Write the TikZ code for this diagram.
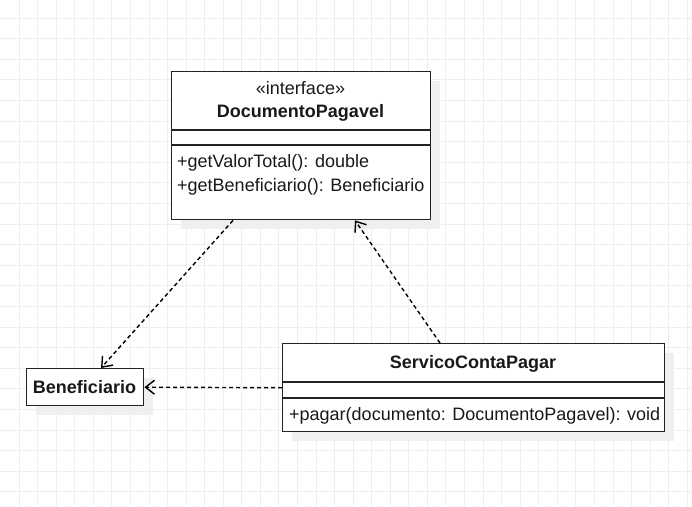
\documentclass[tikz,border=0pt]{standalone}
\usepackage{fontspec}
\setmainfont{Liberation Sans}
\usetikzlibrary{arrows.meta}
\definecolor{gridc}{HTML}{EEEEEE}
\definecolor{linec}{HTML}{222222}
\definecolor{shadowc}{HTML}{EFEFEF}
\begin{document}
\begin{tikzpicture}[x=1pt,y=-1pt,
  umlbox/.style={draw=linec, line width=1.4pt, fill=white, inner sep=0pt, anchor=north west},
  shadowbox/.style={fill=shadowc},
  divider/.style={draw=linec, line width=1.4pt},
  txt/.style={inner sep=0pt, text=black!90, font=\fontsize{18}{20}\selectfont},
  btxt/.style={txt, font=\fontsize{18}{20}\selectfont\bfseries},
  dep/.style={draw=black, line width=1.4pt, dash pattern=on 4pt off 3pt,
    -{Straight Barb[length=9pt,width=14pt,line width=1.4pt]}}
]
\useasboundingbox (0,0) rectangle (692,506);
\fill[white] (0,0) rectangle (692,506);
% grid
\foreach \i in {0,...,36} \draw[gridc, line width=0.8pt] ({19+18.56*\i},0) -- ++(0,506);
\foreach \j in {0,...,23} \draw[gridc, line width=0.8pt] (0,{18+20.6*\j}) -- ++(692,0);
% shadows
\fill[shadowbox] (181,81) rectangle (440,229);
\fill[shadowbox] (36,378) rectangle (153,415);
\fill[shadowbox] (292,353) rectangle (674,441);
% boxes
\node[umlbox, minimum width=259pt, minimum height=148pt] (dp) at (171,71) {};
\node[umlbox, minimum width=117pt, minimum height=37pt] (ben) at (26,368) {};
\node[umlbox, minimum width=382pt, minimum height=88pt] (scp) at (282,343) {};
% dividers
\draw[divider] (171,130) -- (430,130);
\draw[divider] (171,145) -- (430,145);
\draw[divider] (282,382) -- (664,382);
\draw[divider] (282,398) -- (664,398);
% texts
\node[txt, anchor=base] (dpst) at (300.5,94) {«interface»};
\node[btxt, anchor=base] (dpname) at (300.5,117) {DocumentoPagavel};
\node[txt, anchor=base west] (m1) at (177,167) {+getValorTotal(): double};
\node[txt, anchor=base west] (m2) at (177,191) {+getBeneficiario(): Beneficiario};
\node[btxt, anchor=base] (benname) at (84.5,393) {Beneficiario};
\node[btxt, anchor=base] (scpname) at (473,368) {ServicoContaPagar};
\node[txt, anchor=base west] (m3) at (289,420) {+pagar(documento: DocumentoPagavel): void};
% connectors
\draw[dep] ([xshift=62pt]dp.south west) -- ([xshift=75pt]ben.north west);
\draw[dep] ([xshift=158pt]scp.north west) -- ([xshift=184pt]dp.south west);
\draw[dep] (scp.west) -- (ben.east);
\end{tikzpicture}
\end{document}
